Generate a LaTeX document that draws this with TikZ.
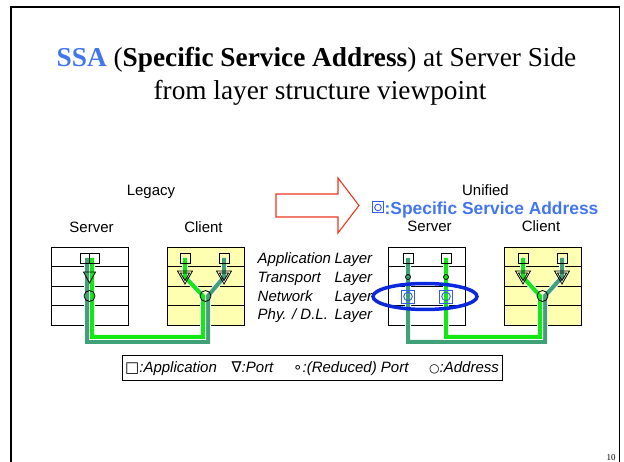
\documentclass[tikz,border=0pt]{standalone}
\usepackage{fontspec}
\setmainfont{Liberation Serif}
\setsansfont{Liberation Sans}
\newfontfamily\symfont{DejaVu Sans}
\usetikzlibrary{calc}

\definecolor{wiregreen}{RGB}{20,232,20}
\definecolor{wireteal}{RGB}{64,160,120}
\definecolor{stackyellow}{RGB}{255,255,178}
\definecolor{ssablue}{RGB}{66,118,240}
\definecolor{ssabox}{RGB}{50,90,235}
\definecolor{ringblue}{RGB}{10,40,220}
\definecolor{arrowred}{RGB}{235,55,30}

% a four-layer protocol stack: left x, right x, fill
\newcommand{\drawstack}[3]{%
  \draw[stackline, fill=#3] (#1,247) rectangle (#2,325);
  \foreach \yy in {266.5,286,305.5} \draw[stackline] (#1,\yy) -- (#2,\yy);
}

\begin{document}
\begin{tikzpicture}[x=1pt,y=-1pt,
  stackline/.style={line width=0.9pt, draw=black},
  sym/.style={line width=0.8pt, draw=black},
  wire/.style={line width=4pt, draw=#1, preaction={draw=white, line width=6pt}},
  lbl/.style={font=\sffamily\fontsize{15}{18}\selectfont, inner sep=0pt},
  layerlbl/.style={font=\sffamily\itshape\fontsize{15}{18}\selectfont, inner sep=0pt, anchor=base west},
  legendlbl/.style={font=\sffamily\itshape\fontsize{15}{18}\selectfont, inner sep=0pt, anchor=base west},
  ]
\useasboundingbox (0,0) rectangle (624,462);

% slide frame
\draw[line width=1.5pt] (11,470) -- (11,7) -- (619.5,7) -- (619.5,470);

% title
\node[font=\fontsize{27.3}{33}\selectfont, inner sep=0pt, anchor=base] (title1) at (316.5,67)
  {\textcolor{ssablue}{\textbf{SSA}} (\textbf{Specific Service Address}) at Server Side};
\node[font=\fontsize{27.3}{33}\selectfont, inner sep=0pt, anchor=base] (title2) at (320,100)
  {from layer structure viewpoint};

% headings
\node[lbl, anchor=base] (legacy) at (151,195.5) {Legacy};
\node[lbl, anchor=base] (lserver) at (91.5,233) {Server};
\node[lbl, anchor=base] (lclient) at (203.5,233) {Client};
\node[lbl, anchor=base] (unified) at (485.5,195.5) {Unified};
\node[lbl, anchor=base] (userver) at (429.5,231.5) {Server};
\node[lbl, anchor=base] (uclient) at (541,231.5) {Client};

% SSA key
\node[draw=ssabox, line width=1pt, minimum size=11pt, inner sep=0pt] (ssakey) at (378,207.5) {};
\draw[ssabox, line width=0.9pt] (ssakey.center) circle[radius=3.3pt];
\node[font=\sffamily\bfseries\fontsize{17.4}{20}\selectfont, text=ssablue, inner sep=0pt, anchor=base west]
  (ssatext) at (384.5,215) {:Specific Service Address};

% transition arrow
\draw[arrowred, line width=1.1pt, fill=white]
  (276,194) -- (338,194) -- (338,178) -- (359,205.5) -- (338,233) -- (338,217) -- (276,217) -- cycle;

% stacks
\drawstack{51}{128}{white}
\drawstack{167}{244}{stackyellow}
\drawstack{388}{465}{white}
\drawstack{504}{581}{stackyellow}

% layer names
\node[layerlbl] (lapp) at (257.5,263.5) {Application};
\node[layerlbl] (ltra) at (257.5,282.5) {Transport};
\node[layerlbl] (lnet) at (257.5,301.5) {Network};
\node[layerlbl] (lphy) at (257.5,320) {Phy. / D.L.};
\foreach \yy/\nm in {263.5/a,282.5/b,301.5/c,320/d}
  \node[layerlbl] (layer\nm) at (334.5,\yy) {Layer};

% symbol positions
\coordinate (LSapp) at (89.5,258);
\coordinate (LSport) at (89.5,277);
\coordinate (LSaddr) at (89.5,296);
\coordinate (LCappA) at (185,258);
\coordinate (LCappB) at (224,258);
\coordinate (LCportA) at (185,277);
\coordinate (LCportB) at (224,277);
\coordinate (LCaddr) at (205.5,296);
\coordinate (USappA) at (408,258);
\coordinate (USappB) at (446,258);
\coordinate (USrpA) at (408,277);
\coordinate (USrpB) at (446,277);
\coordinate (USssaA) at (408,296.5);
\coordinate (USssaB) at (446,296.5);
\coordinate (UCappA) at (523,258);
\coordinate (UCappB) at (562,258);
\coordinate (UCportA) at (523,277);
\coordinate (UCportB) at (562,277);
\coordinate (UCaddr) at (542.5,296);

% connections, legacy
\draw[wire=wireteal] ([xshift=-2.5pt]LSapp) -- ++(0,84) -| ([xshift=2.5pt]LCaddr) -- (LCportB) -- (LCappB);
\draw[wire=wiregreen] ([xshift=2.5pt]LSapp) -- ++(0,79) -| ([xshift=-2.5pt]LCaddr) -- (LCportA) -- (LCappA);
% connections, unified
\draw[wire=wireteal] (USappA) -- ++(0,84) -| ([xshift=2.5pt]UCaddr) -- (UCportB) -- (UCappB);
\draw[wire=wiregreen] (USappB) -- ++(0,79) -| ([xshift=-2.5pt]UCaddr) -- (UCportA) -- (UCappA);

% legacy server symbols
\draw[sym] ([shift={(-9.5,-5)}]LSapp) rectangle ([shift={(9.5,5)}]LSapp);
\draw[sym] ([shift={(0,-5)}]LSapp) -- ([shift={(0,5)}]LSapp);
\draw[sym] ([shift={(-6,-5)}]LSport) -- ([shift={(6,-5)}]LSport) -- ([shift={(0,6)}]LSport) -- cycle;
\draw[sym] (LSaddr) circle[radius=5.5pt];

% client symbols (both sides)
\foreach \c in {LCappA,LCappB,UCappA,UCappB}
  \draw[sym] ([shift={(-5,-5)}]\c) rectangle ([shift={(5,5)}]\c);
\foreach \c in {LCportA,LCportB,UCportA,UCportB}{
  \draw[sym] ([shift={(-7.5,-6)}]\c) -- ([shift={(7.5,-6)}]\c) -- ([shift={(0,7)}]\c) -- cycle;
  \draw[sym] ([shift={(-4.5,-4)}]\c) -- ([shift={(4.5,-4)}]\c) -- ([shift={(0,3.5)}]\c) -- cycle;
}
\foreach \c in {LCaddr,UCaddr}
  \draw[sym] (\c) circle[radius=5.5pt];

% unified server symbols
\foreach \c in {USappA,USappB}
  \draw[sym] ([shift={(-5,-5)}]\c) rectangle ([shift={(5,5)}]\c);
\foreach \c in {USrpA,USrpB}
  \draw[sym] (\c) circle[radius=2.5pt];
\foreach \c in {USssaA,USssaB}{
  \draw[ssabox, line width=0.9pt] ([shift={(-6.5,-6.5)}]\c) rectangle ([shift={(6.5,6.5)}]\c);
  \draw[ssabox, line width=0.9pt] (\c) circle[radius=4.3pt];
}

% SSA ring on the network layer
\draw[ringblue, line width=3.5pt] (425,296.5) ellipse[x radius=52pt, y radius=13pt];

% legend
\draw[line width=0.9pt] (122,355) rectangle (502,380);
\node[legendlbl] (kapp) at (125,373) {{\symfont\upshape □}:Application};
\node[legendlbl] (kport) at (231.5,373) {{\symfont\upshape ∇}:Port};
\node[legendlbl] (krport) at (293,373) {{\symfont\upshape ∘}:(Reduced) Port};
\node[legendlbl] (kaddr) at (429,373) {{\symfont\upshape\fontsize{12}{14}\selectfont ○}:Address};

% page number
\node[font=\fontsize{9}{10}\selectfont, inner sep=0pt, anchor=base] (pagenum) at (611,460) {10};
\end{tikzpicture}
\end{document}
